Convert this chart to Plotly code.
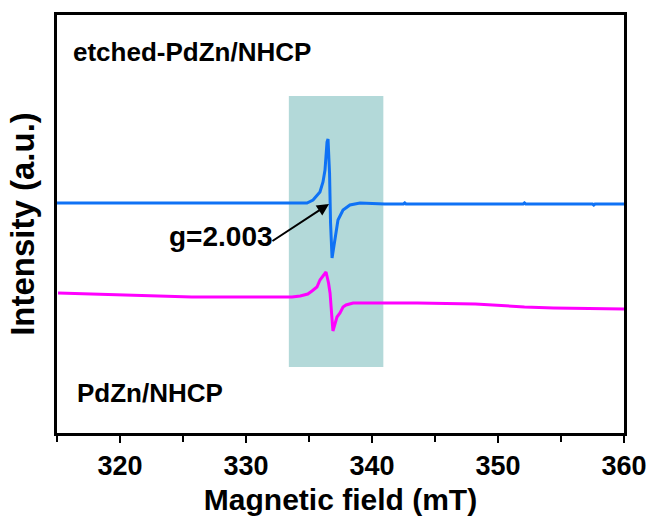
import plotly.graph_objects as go

# Magnetic field (mT) and intensity (a.u.)
blue_x = [315.0, 326.3, 334.3, 334.84, 335.32, 335.87, 336.11, 336.27, 336.43, 336.51,
          336.63, 336.71, 336.83, 337.06, 337.30, 337.70, 338.25, 339.05, 341.0, 342.5,
          342.6, 342.7, 348.0, 352.0, 352.1, 352.2, 356.0, 357.5, 357.6, 357.7, 360.0]
blue_y = [230, 230, 230, 230, 233, 241, 251, 263, 291, 294,
          260, 210, 175, 196, 213, 223, 228, 230, 229, 229,
          230, 229, 229, 229, 230, 229, 229, 229, 228, 229, 229]

mag_x = [315.08, 320.4, 325.7, 329.7, 332.7, 333.65, 334.3, 334.9, 335.24, 335.63,
         335.87, 336.35, 336.55, 336.67, 336.9, 337.22, 337.46, 337.7, 337.94, 338.5,
         338.9, 340.6, 343.6, 348.2, 352.1, 354.4, 360.0]
mag_y = [140, 138, 136, 136, 136, 136, 137, 139, 142, 146,
         153, 161, 150, 140, 102, 116, 120, 126, 128, 130,
         130, 130, 130, 129, 126, 125, 124]

band = [333.4, 340.9]           # shaded field window (mT)
band_y = [66, 337]
x_range = [315, 360]
y_range = [0, 418]
major_ticks = [320, 330, 340, 350, 360]
minor_ticks = [315, 325, 335, 345, 355]

sample_labels = ["etched-PdZn/NHCP", "PdZn/NHCP"]
g_label = "g=2.003"

FONT = "Arial, Liberation Sans, sans-serif"

fig = go.Figure()
fig.add_trace(go.Scatter(x=blue_x, y=blue_y, mode="lines",
                         line=dict(color="#0F72F5", width=3), showlegend=False))
fig.add_trace(go.Scatter(x=mag_x, y=mag_y, mode="lines",
                         line=dict(color="#FF00FF", width=3), showlegend=False))

fig.add_shape(type="rect", x0=band[0], x1=band[1], y0=band_y[0], y1=band_y[1],
              xref="x", yref="y", fillcolor="#B3D9D9", line=dict(width=0), layer="below")

fig.add_annotation(x=316.1, y=381, text="<b>%s</b>" % sample_labels[0], showarrow=False,
                   xanchor="left", yanchor="middle", font=dict(family=FONT, size=26, color="black"))
fig.add_annotation(x=316.4, y=40, text="<b>%s</b>" % sample_labels[1], showarrow=False,
                   xanchor="left", yanchor="middle", font=dict(family=FONT, size=26, color="black"))
fig.add_annotation(x=328.0, y=197, text="<b>%s</b>" % g_label, showarrow=False,
                   xanchor="center", yanchor="middle", font=dict(family=FONT, size=28, color="black"))
fig.add_annotation(x=336.59, y=229, ax=331.98, ay=191, xref="x", yref="y", axref="x", ayref="y",
                   text="", showarrow=True, arrowhead=2, arrowsize=1.2, arrowwidth=2,
                   arrowcolor="black")

fig.update_xaxes(range=x_range, tickvals=major_ticks, ticks="outside", ticklen=7, tickwidth=2,
                 tickcolor="black", showline=True, linewidth=3, linecolor="black", mirror=True,
                 showgrid=False, zeroline=False, automargin=False,
                 minor=dict(tickvals=minor_ticks, ticks="outside", ticklen=6,
                            tickwidth=2, tickcolor="black", showgrid=False),
                 tickfont=dict(family=FONT, size=27, color="black", weight="bold"),
                 title=dict(text="<b>Magnetic field (mT)</b>", standoff=10,
                            font=dict(family=FONT, size=30, color="black")))
fig.update_yaxes(range=y_range, showticklabels=False, ticks="", showline=True, linewidth=3,
                 linecolor="black", mirror=True, showgrid=False, zeroline=False, automargin=False,
                 title=dict(text="<b>Intensity (a.u.)</b>", standoff=10,
                            font=dict(family=FONT, size=33, color="black")))

fig.update_layout(width=652, height=516, margin=dict(l=57, r=28, t=15, b=83),
                  plot_bgcolor="white", paper_bgcolor="white")

fig.write_html("out.html")
